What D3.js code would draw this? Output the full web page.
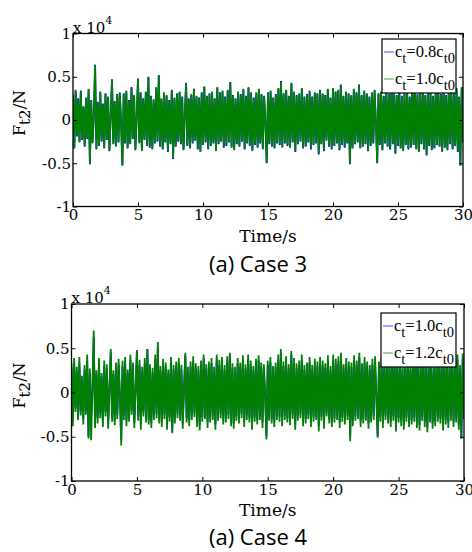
<!DOCTYPE html>
<html><head><meta charset="utf-8">
<script src="https://cdn.jsdelivr.net/npm/d3@7"></script>
<style>
html,body{margin:0;padding:0;background:#fff;}
svg{display:block;}
</style></head>
<body>
<svg id="chart" width="472" height="552"></svg>
<script>
// Sampling: t = 0 .. 30 s, step 0.1 s
const timeStep = 0.1;
const xTicks = [0, 5, 10, 15, 20, 25, 30];
const yTicks = [-1, -0.5, 0, 0.5, 1]; // x 10^4 N
const legendCase3 = ["0.8", "1.0"];
const legendCase4 = ["1.0", "1.2"];
const captions = ["(a) Case 3", "(a) Case 4"];

// F_t2 in N, c_t = 0.8 c_t0
const ct08 = [
2900,-3300,3400,-1900,2500,-2500,3400,-2300,1600,-3100,
2500,-2200,3500,-5100,2300,-2600,400,6400,-3300,2100,
-3000,3200,-2500,1900,-3200,3100,-2300,2600,-3600,300,
4700,-2700,2200,-3000,3000,-2600,3100,-400,-5200,3100,
-2700,3300,-3300,2300,-2700,3800,-2200,2800,-3500,400,
4800,-2600,3200,-3500,2500,-2300,3200,-3000,5000,-3200,
2800,-3300,2400,-2700,3700,-2500,5200,-3100,2400,-3400,
3100,-2600,2800,-3700,2300,-2700,3500,-4500,2500,-3100,
3100,-2500,3200,-2800,2700,-3400,500,4300,-3000,2500,
-3300,2900,-2700,3600,-2400,2700,-3400,2600,-3600,3200,
-2900,3800,-2600,2800,-3300,3100,-3000,3200,-2700,2500,
-3500,3700,-2800,3200,-2500,3300,-3200,2700,-3000,3400,
-2600,4400,-3100,2900,-3400,2500,-2800,3200,-3100,3000,
-2500,3500,-3400,2800,-2700,3700,-3000,3200,-3500,2600,
-2900,3100,-3200,3500,-2700,3000,-3300,2800,-300,-5000,
3200,-2800,3300,-3100,2600,-3200,3000,-2700,3600,-2900,
4500,-3100,3100,-2700,3400,-3000,2800,-3200,4200,-2600,
3200,-3700,2900,-2800,3000,-2500,3600,-3300,2700,-3100,
3000,-2600,3300,-3400,2700,-2900,3100,-2700,3100,-4000,
3500,-2800,3000,-3600,2900,-2400,3500,-3100,2600,-3400,
3600,-3000,3300,-2700,3400,-3500,4100,-2900,2800,-3200,
3200,-2700,3100,-5100,2800,-3300,3500,-2800,3200,-2600,
4100,-3200,2900,-3100,3300,-2800,3100,-3600,2700,-3000,
3100,-2700,3400,-400,-5000,3100,-2900,3200,-3500,2800,
-2700,3500,-3100,3000,-3400,4300,-2800,3000,-3900,2900,
-3000,3300,-3300,2800,-3500,3100,-2900,3400,-3400,2700,
-3200,3800,-2900,4200,-3300,3000,-3600,3100,-2800,3500,
-3400,2900,-4100,3200,-3000,3200,-3400,2800,-3300,3300,
-2900,3500,-3100,3000,-3600,4000,-3200,2900,-3500,3100,
-2800,3400,-3400,3100,-3000,3600,-3700,2700,-5300,3700,-2600
];

// F_t2 in N, c_t = 1.0 c_t0
const ct10 = [
2800,-3200,3500,-1800,2400,-2600,3300,-2200,1500,-3000,
2600,-2100,3600,-5000,2200,-2700,400,6300,-3400,2000,
-2900,3300,-2400,1800,-3300,3000,-2200,2700,-3500,400,
4600,-2800,2100,-3100,2900,-2500,3200,-400,-5300,3000,
-2600,3400,-3200,2200,-2800,3700,-2100,2900,-3400,300,
4700,-2700,3100,-3600,2400,-2200,3300,-2900,4900,-3100,
2700,-3400,2300,-2600,3800,-2400,5100,-3000,2500,-3300,
3200,-2500,2900,-3600,2200,-2800,3400,-4400,2600,-3000,
3000,-2400,3300,-2700,2600,-3500,500,4200,-2900,2400,
-3200,3000,-2600,3500,-2300,2800,-3300,2500,-3700,3100,
-2800,3900,-2500,2700,-3400,3000,-2900,3300,-2600,2400,
-3600,3800,-2700,3100,-2400,3400,-3100,2600,-2900,3500,
-2500,4300,-3200,2800,-3500,2400,-2700,3300,-3000,2900,
-2400,3600,-3300,2700,-2600,3800,-2900,3100,-3600,2500,
-2800,3200,-3100,3600,-2600,2900,-3400,2700,-300,-4900,
3100,-2700,3400,-3000,2500,-3300,2900,-2600,3700,-2800,
4400,-3200,3000,-2600,3500,-2900,2700,-3100,4300,-2500,
3300,-3600,2800,-2700,3100,-2400,3700,-3200,2600,-3000,
2900,-2500,3400,-3300,2600,-2800,3200,-2600,3000,-3800,
3400,-2700,3100,-3500,2800,-2300,3600,-3000,2500,-3300,
3700,-2900,3200,-2600,3500,-3400,4000,-2800,2700,-3100,
3300,-2600,3000,-5000,2900,-3200,3600,-2700,3100,-2500,
4000,-3300,2800,-3000,3400,-2700,3000,-3500,2600,-2900,
3200,-2600,3500,-400,-4900,3000,-2800,3300,-3400,2700,
-2600,3600,-3000,2900,-3300,4200,-2700,3100,-3800,2800,
-2900,3400,-3200,2700,-3600,3000,-2800,3500,-3300,2600,
-3100,3900,-2800,4100,-3400,2900,-3700,3200,-2700,3600,
-3300,2800,-4000,3300,-2900,3100,-3500,2700,-3200,3400,
-2800,3600,-3000,2900,-3700,3900,-3100,2800,-3400,3200,
-2700,3500,-3300,3000,-2900,3700,-3600,2600,-5200,3800,-2500
];

// F_t2 in N, c_t = 1.2 c_t0
const ct12 = [
3300,-3800,3900,-2200,2900,-3100,4000,-2600,1900,-3600,
3100,-2500,4300,-5200,2700,-5400,400,7000,-4000,2500,
-3500,3900,-2900,2200,-3900,3600,-2700,3200,-4100,300,
4900,-3300,2500,-3700,3400,-3000,3800,-400,-6000,3600,
-3100,4000,-3800,2600,-3300,4300,-2500,3400,-4000,300,
4800,-3200,3700,-4200,2900,-2700,3900,-3400,4900,-3600,
3200,-4000,2800,-3100,4300,-2900,5700,-3500,3000,-3900,
3800,-3000,3400,-4200,2600,-3300,4000,-4600,3100,-3500,
3500,-2900,3900,-3200,3100,-4100,500,4500,-3400,2900,
-3800,3500,-3100,4100,-2800,3300,-3900,3000,-4300,3600,
-3300,4300,-3000,3200,-4000,3500,-3400,3900,-3100,2900,
-4200,4300,-3200,3700,-2900,4000,-3600,3100,-3400,4100,
-3000,4500,-3800,3300,-4100,2900,-3200,3900,-3500,3400,
-2900,4200,-3900,3200,-3100,4300,-3400,3600,-4200,3000,
-3300,3800,-3600,4200,-3100,3400,-4000,3200,-300,-5300,
3600,-3200,4000,-3500,3000,-3900,3400,-3100,4300,-3300,
4900,-3800,3500,-3100,4100,-3400,3200,-3700,4700,-3000,
3900,-4200,3300,-3200,3600,-2900,4300,-3800,3100,-3500,
3400,-3000,4000,-3900,3100,-3300,3800,-3100,3500,-4400,
4000,-3200,3600,-4100,3300,-2700,4200,-3500,3000,-3900,
4300,-3400,3800,-3100,4100,-4000,4500,-3300,3200,-3600,
3900,-3100,3500,-5500,3400,-3800,4200,-3200,3600,-3000,
4500,-3900,3300,-3500,4000,-3200,3500,-4100,3100,-3400,
3800,-3100,4100,-400,-5100,3500,-3300,3900,-4000,3200,
-3100,4200,-3500,3400,-3900,4500,-3200,3600,-4400,3300,
-3400,4000,-3800,3200,-4200,3500,-3300,4100,-3900,3100,
-3600,4400,-3300,4300,-4000,3400,-4300,3800,-3200,4200,
-3900,3300,-4500,3900,-3400,3600,-4100,3200,-3800,4000,
-3300,4200,-3500,3400,-4300,4400,-3600,3300,-4000,3800,
-3200,4100,-3900,3500,-3400,4300,-4200,3100,-5200,4400,-3000
];

const panels = [
  {left:73, right:463, top:33.5, bottom:206.5, blue:ct08, green:ct10, legend:legendCase3,
   caption:captions[0], capY:272, box:{x:382, y:39, w:74, h:54}},
  {left:71.5, right:464, top:304, bottom:481, blue:ct10, green:ct12, legend:legendCase4,
   caption:captions[1], capY:545, box:{x:381, y:313, w:75, h:54}}
];

const svg = d3.select("#chart");
const serif = "'DejaVu Serif', serif";
const serif2 = "'Liberation Serif', serif";
const BLUE = "#0000ff", GREEN = "#008000";

panels.forEach((p, pi) => {
  const g = svg.append("g");
  const x = d3.scaleLinear().domain([0, 30]).range([p.left, p.right]);
  const y = d3.scaleLinear().domain([-1e4, 1e4]).range([p.bottom, p.top]);

  const clipId = "clip" + pi;
  g.append("clipPath").attr("id", clipId).append("rect")
    .attr("x", p.left).attr("y", p.top).attr("width", p.right - p.left).attr("height", p.bottom - p.top);

  const line = d3.line().x((d, i) => x(i * timeStep)).y(d => y(d));
  g.append("path").datum(p.blue).attr("d", line).attr("fill", "none")
    .attr("stroke", BLUE).attr("stroke-width", 1.8).attr("stroke-linejoin", "miter")
    .attr("clip-path", `url(#${clipId})`);
  g.append("path").datum(p.green).attr("d", line).attr("fill", "none")
    .attr("stroke", GREEN).attr("stroke-width", 1.8).attr("stroke-linejoin", "miter")
    .attr("clip-path", `url(#${clipId})`);

  // axes
  const fmt = d => String(d / 1e4);
  const ax = (gen, tr) => g.append("g").attr("transform", tr).call(gen);
  ax(d3.axisBottom(x).tickValues(xTicks).tickSizeInner(-4).tickSizeOuter(0).tickPadding(3).tickFormat(d => d), `translate(0,${p.bottom})`);
  ax(d3.axisTop(x).tickValues(xTicks).tickSizeInner(-4).tickSizeOuter(0).tickFormat(""), `translate(0,${p.top})`);
  ax(d3.axisLeft(y).tickValues(yTicks.map(v => v * 1e4)).tickSizeInner(-4).tickSizeOuter(0).tickPadding(2).tickFormat(fmt), `translate(${p.left},0)`);
  ax(d3.axisRight(y).tickValues(yTicks.map(v => v * 1e4)).tickSizeInner(-4).tickSizeOuter(0).tickFormat(""), `translate(${p.right},0)`);
  g.selectAll(".domain").remove();
  g.selectAll(".tick line").attr("stroke", "#000").attr("stroke-width", 1);
  g.selectAll(".tick text").attr("font-family", serif).attr("font-size", 15).attr("fill", "#000");

  g.append("rect").attr("x", p.left).attr("y", p.top).attr("width", p.right - p.left).attr("height", p.bottom - p.top)
    .attr("fill", "none").attr("stroke", "#000").attr("stroke-width", 1.3);

  // exponent label
  const ex = g.append("text").attr("x", p.left).attr("y", p.top - 1).attr("font-family", serif).attr("font-size", 15);
  ex.append("tspan").text("x 10");
  ex.append("tspan").attr("dy", -9).attr("font-size", 11).text("4");

  // y label
  const yl = g.append("text").attr("transform", `translate(25,${(p.top + p.bottom) / 2 - 7}) rotate(-90)`)
    .attr("text-anchor", "middle").attr("font-family", serif).attr("font-size", 16);
  yl.append("tspan").text("F");
  yl.append("tspan").attr("dy", 5).attr("font-size", 15).text("t2");
  yl.append("tspan").attr("dy", -5).text("/N");

  // x label
  g.append("text").attr("x", (p.left + p.right) / 2).attr("y", p.bottom + 35)
    .attr("text-anchor", "middle").attr("font-family", serif).attr("font-size", 17).text("Time/s");

  // caption
  g.append("text").attr("x", 258).attr("y", p.capY).attr("text-anchor", "middle")
    .attr("font-family", "'Open Sans', sans-serif").attr("font-size", 22).text(p.caption);

  // legend
  const b = p.box;
  const lg = g.append("g");
  lg.append("rect").attr("x", b.x).attr("y", b.y).attr("width", b.w).attr("height", b.h)
    .attr("fill", "#fff").attr("stroke", "#000").attr("stroke-width", 1.2);
  [BLUE, GREEN].forEach((c, i) => {
    const yy = b.y + 13 + i * 27;
    lg.append("line").attr("x1", b.x + 2).attr("x2", b.x + 12).attr("y1", yy).attr("y2", yy)
      .attr("stroke", c).attr("stroke-width", 1).attr("opacity", 0.7);
    const t = lg.append("text").attr("x", b.x + 13).attr("y", yy + 5).attr("font-family", serif2).attr("font-size", 16.5);
    t.append("tspan").text("c");
    t.append("tspan").attr("dy", 6).attr("font-size", 14.5).text("t");
    t.append("tspan").attr("dy", -6).text("=" + p.legend[i] + "c");
    t.append("tspan").attr("dy", 6).attr("font-size", 14.5).text("t0");
  });
});
</script>
</body></html>
